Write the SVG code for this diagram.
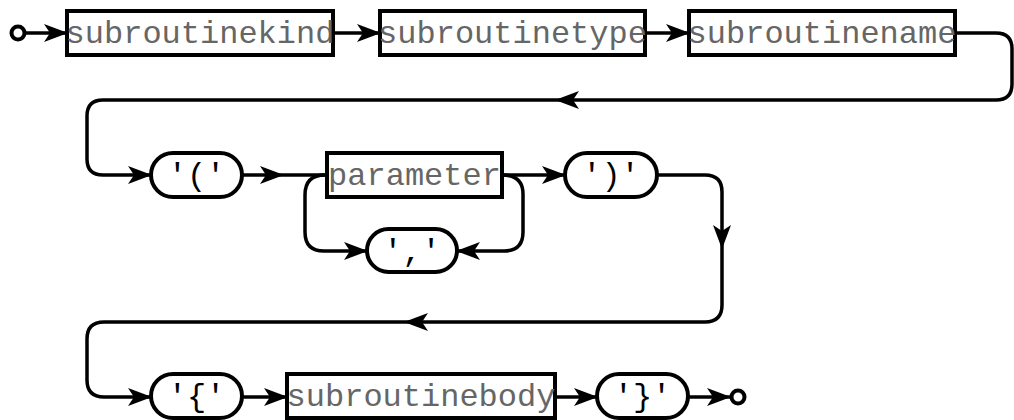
<svg xmlns="http://www.w3.org/2000/svg" width="1014" height="420" viewBox="0 0 1014 420">
<style>
.box{fill:#fff;stroke:#000;stroke-width:4}
.pill{fill:#fff;stroke:#000;stroke-width:4}
.t{font-family:"Liberation Mono","Courier New",monospace;font-size:32px;text-anchor:middle;fill:#666}
.p{font-family:"Liberation Mono","Courier New",monospace;font-size:32px;text-anchor:middle;fill:#000}
.c{fill:none;stroke:#000;stroke-width:3.5}
.a{marker-end:url(#ah)}
.dot{fill:#fff;stroke:#000;stroke-width:4}
</style>
<defs>
<marker id="ah" markerWidth="24" markerHeight="18" refX="23" refY="9" orient="auto" markerUnits="userSpaceOnUse" viewBox="0 0 24 18">
<path d="M0,0 L24,9 L0,18 L6,9 Z" fill="#000"/>
</marker>
</defs>
<rect width="1014" height="420" fill="#fff"/>
<g id="connectors">
<path class="c a" d="M25,33 H67"/>
<path class="c a" d="M333,33 H380"/>
<path class="c a" d="M645,33 H689"/>
<path class="c a" d="M955,33 H996 Q1012,33 1012,49 V84 Q1012,100 996,100 H556"/>
<path class="c a" d="M556,100 H103 Q87,100 87,116 V159 Q87,175 103,175 H151"/>
<path class="c a" d="M242,175 H283"/>
<path class="c" d="M283,175 H327"/>
<path class="c a" d="M325,175 Q305,175 305,195 V232 Q305,251 324,251 H367"/>
<path class="c a" d="M502,175 Q523,175 523,194 V232 Q523,251 504,251 H457"/>
<path class="c a" d="M502,175 H565"/>
<path class="c a" d="M657,175 H705 Q722,175 722,192 V248"/>
<path class="c a" d="M722,248 V305 Q722,322 705,322 H405"/>
<path class="c a" d="M405,322 H104 Q87,322 87,339 V380 Q87,397 104,397 H151"/>
<path class="c a" d="M242,397 H287"/>
<path class="c a" d="M555,397 H597"/>
<path class="c a" d="M688,397 H730"/>
</g>
<g id="start"><circle class="dot" cx="18" cy="33" r="6.5"/></g>
<g id="end"><circle class="dot" cx="738" cy="397" r="6.5"/></g>
<g id="subroutinekind"><rect class="box" x="67" y="11" width="266" height="44"/><text class="t" x="200" y="43">subroutinekind</text></g>
<g id="subroutinetype"><rect class="box" x="380" y="11" width="265" height="44"/><text class="t" x="512.5" y="43">subroutinetype</text></g>
<g id="subroutinename"><rect class="box" x="689" y="11" width="266" height="44"/><text class="t" x="822" y="43">subroutinename</text></g>
<g id="lparen"><rect class="pill" x="151" y="153" width="91" height="44" rx="22"/><text class="p" x="196.5" y="185">'('</text></g>
<g id="parameter"><rect class="box" x="327" y="153" width="175" height="44"/><text class="t" x="414.5" y="185">parameter</text></g>
<g id="comma"><rect class="pill" x="367" y="229" width="90" height="43" rx="21.5"/><text class="p" x="412" y="261">','</text></g>
<g id="rparen"><rect class="pill" x="565" y="153" width="92" height="44" rx="22"/><text class="p" x="611" y="185">')'</text></g>
<g id="lbrace"><rect class="pill" x="151" y="374" width="91" height="44" rx="22"/><text class="p" x="196.5" y="406">'{'</text></g>
<g id="subroutinebody"><rect class="box" x="287" y="374" width="268" height="44"/><text class="t" x="421" y="406">subroutinebody</text></g>
<g id="rbrace"><rect class="pill" x="597" y="374" width="91" height="44" rx="22"/><text class="p" x="642.5" y="406">'}'</text></g>
</svg>
